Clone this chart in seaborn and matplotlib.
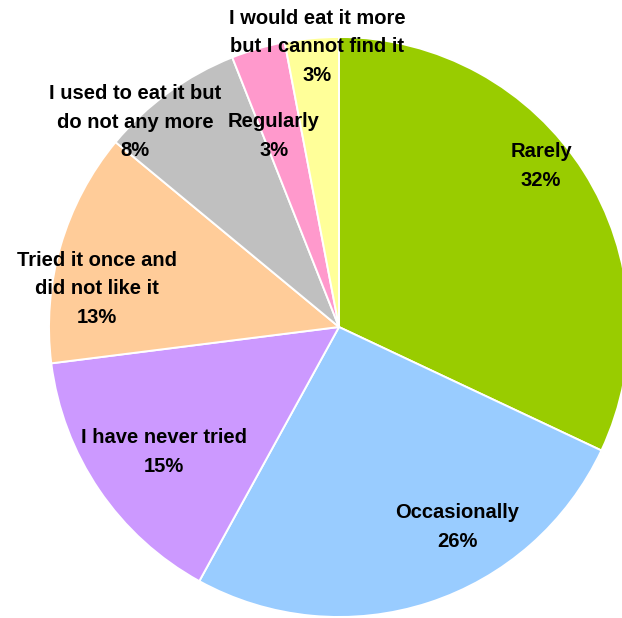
import matplotlib
matplotlib.use("Agg")
import matplotlib.pyplot as plt
import seaborn as sns

# Survey answers and their shares (percent)
categories = [
    "Rarely",
    "Occasionally",
    "I have never tried",
    "Tried it once and\ndid not like it",
    "I used to eat it but\ndo not any more",
    "Regularly",
    "I would eat it more\nbut I cannot find it",
]
shares = [32, 26, 15, 13, 8, 3, 3]

slice_colors = ["#99CC00", "#99CCFF", "#CC99FF", "#FFCC99", "#C0C0C0", "#FF99CC", "#FFFF99"]

# Label block centres in canvas pixels (x from left, y from top)
label_xy = [
    (541, 166),
    (457, 527),
    (164, 452),
    (97, 289),
    (135, 122),
    (274, 136),
    (317, 47),
]

W, H = 622, 618
sns.set_theme(style="white")
plt.rcParams["font.family"] = ["Liberation Sans", "DejaVu Sans"]

fig = plt.figure(figsize=(W / 100, H / 100), dpi=100)
ax = fig.add_axes([0, 0, 1, 1])

palette = sns.color_palette(slice_colors)
ax.pie(
    shares,
    colors=palette,
    startangle=90,
    counterclock=False,
    radius=290,
    center=(339, H - 327),
    wedgeprops=dict(edgecolor="white", linewidth=1.4),
    frame=True,
)
ax.set_xlim(0, W)
ax.set_ylim(0, H)
ax.set_aspect("equal")
ax.axis("off")

for name, val, (x, y) in zip(categories, shares, label_xy):
    ax.text(
        x, H - y, f"{name}\n{val}%",
        ha="center", va="center", multialignment="center",
        fontsize=14.5, fontweight="bold", color="black",
        linespacing=1.66,
    )

fig.savefig("out.png", dpi=100)
